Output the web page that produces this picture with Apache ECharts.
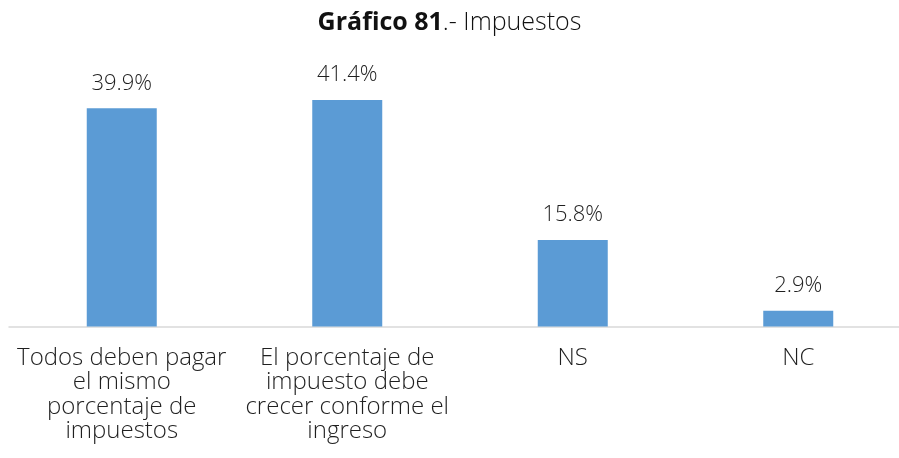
<!DOCTYPE html>
<html>
<head>
<meta charset="utf-8">
<script src="https://cdn.jsdelivr.net/npm/echarts@6/dist/echarts.min.js"></script>
<style>
  html, body { margin: 0; padding: 0; background: #fff; }
  #chart { width: 899px; height: 458px; }
</style>
</head>
<body>
<div id="chart"></div>
<script>
// Survey answers on taxes (percent of respondents)
const categories = [
  'Todos deben pagar\nel mismo\nporcentaje de\nimpuestos',
  'El porcentaje de\nimpuesto debe\ncrecer conforme el\ningreso',
  'NS',
  'NC'
];
const values = [39.9, 41.4, 15.8, 2.9];

const FONT = '"Open Sans", Lato, sans-serif';
const chart = echarts.init(document.getElementById('chart'));

chart.setOption({
  animation: false,
  title: {
    text: '{b|Gráfico 81}{n|.- Impuestos}',
    left: 'center',
    top: 5,
    textStyle: {
      rich: {
        b: { fontFamily: FONT, fontSize: 25, fontWeight: 'bold', color: '#111' },
        n: { fontFamily: FONT, fontSize: 25, fontWeight: 350, color: '#111' }
      }
    }
  },
  grid: {
    left: 9, top: 53, width: 902, height: 273.5,
    containLabel: false,
    outerBoundsMode: 'none'
  },
  xAxis: {
    type: 'category',
    data: categories,
    axisLine: { lineStyle: { color: '#d9d9d9', width: 1.5 } },
    axisTick: { show: false },
    axisLabel: {
      interval: 0,
      margin: 19,
      fontFamily: FONT,
      fontSize: 24,
      fontWeight: 350,
      lineHeight: 24.6,
      color: '#1f1f1f'
    }
  },
  yAxis: {
    type: 'value',
    min: 0,
    max: 50,
    show: false,
    splitLine: { show: false }
  },
  series: [{
    type: 'bar',
    data: values,
    barWidth: 70,
    itemStyle: { color: '#5b9bd5' },
    label: {
      show: true,
      position: 'top',
      distance: 14,
      formatter: p => p.value.toFixed(1) + '%',
      fontFamily: FONT,
      fontSize: 22,
      fontWeight: 350,
      color: '#1f1f1f'
    }
  }]
});
</script>
</body>
</html>
